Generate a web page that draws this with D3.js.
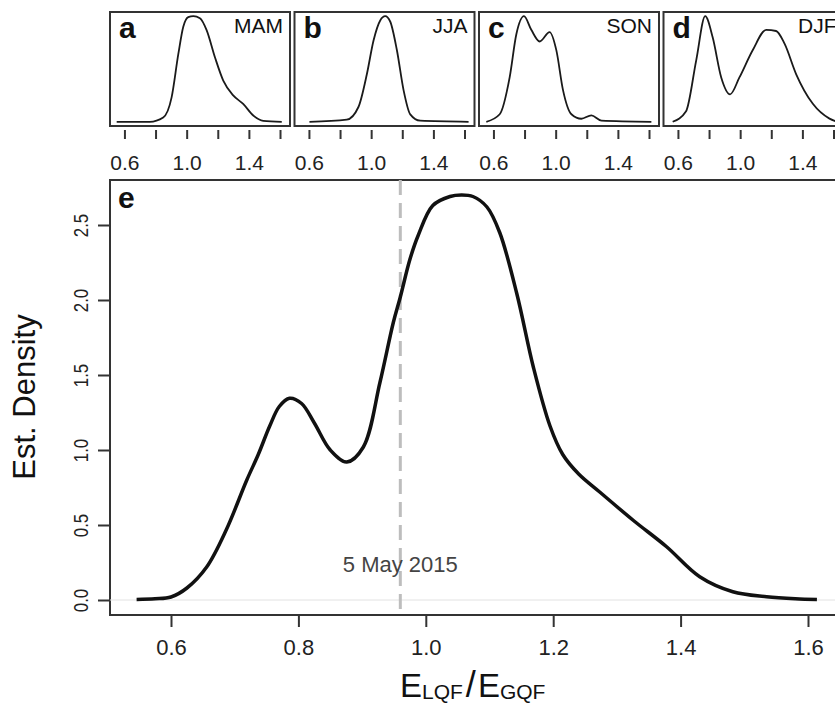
<!DOCTYPE html>
<meta charset="utf-8">
<style>
html, body { margin: 0; overflow: hidden; background: #fff; }
text { font-family: "Liberation Sans", Arial, sans-serif; }
</style>
<body>
<script src="https://cdn.jsdelivr.net/npm/d3@7"></script>
<script>

var width = 835, height = 705;

// main panel (e): estimated density of E_LQF / E_GQF
var mainX = [0.546, 0.575, 0.6, 0.625, 0.656, 0.687, 0.719, 0.737, 0.755, 0.77, 0.786, 0.805, 0.825, 0.85, 0.876,
  0.902, 0.928, 0.949, 0.96, 0.975, 0.988, 1.011, 1.038, 1.056, 1.074, 1.096, 1.116, 1.143, 1.169, 1.195,
  1.215, 1.24, 1.273, 1.326, 1.378, 1.43, 1.482, 1.535, 1.58, 1.614];
var mainY = [0.004, 0.008, 0.02, 0.08, 0.22, 0.47, 0.8, 0.97, 1.16, 1.29, 1.345, 1.31, 1.18, 1.0, 0.92,
  1.02, 1.45, 1.85, 2.02, 2.27, 2.43, 2.63, 2.69, 2.7, 2.69, 2.62, 2.45, 2.04, 1.55, 1.16,
  0.97, 0.84, 0.72, 0.53, 0.355, 0.155, 0.055, 0.022, 0.008, 0.003];

// seasonal panels (a-d)
var seasons = ["MAM", "JJA", "SON", "DJF"];
var letters = ["a", "b", "c", "d"];
var seasonX = [
  [0.547, 0.76, 0.846, 0.9, 0.943, 0.975, 1.007, 1.04, 1.082, 1.125, 1.179, 1.232, 1.296, 1.36, 1.425, 1.489, 1.608],
  [0.6, 0.84, 0.915, 0.969, 1.012, 1.055, 1.087, 1.119, 1.162, 1.205, 1.248, 1.312, 1.623],
  [0.551, 0.637, 0.701, 0.744, 0.793, 0.84, 0.894, 0.958, 1.001, 1.044, 1.098, 1.162, 1.226, 1.291, 1.612],
  [0.563, 0.649, 0.714, 0.772, 0.82, 0.875, 0.932, 0.992, 1.078, 1.164, 1.228, 1.282, 1.357, 1.464, 1.571, 1.62]
];
var seasonY = [
  [0, 0, 0.13, 0.74, 2.05, 2.88, 3.17, 3.2, 3.14, 2.78, 1.95, 1.25, 0.8, 0.54, 0.19, 0.03, 0],
  [0, 0.08, 0.56, 1.8, 3.08, 3.84, 4.0, 3.8, 2.72, 1.2, 0.28, 0.04, 0],
  [0, 0.2, 1.18, 2.32, 2.8, 2.44, 2.13, 2.38, 1.9, 0.84, 0.2, 0.08, 0.17, 0.03, 0],
  [0, 0.2, 1.16, 2.0, 1.6, 0.84, 0.52, 0.84, 1.36, 1.74, 1.72, 1.48, 0.9, 0.34, 0.06, 0]
];
var smallTicks = [0.6, 0.8, 1.0, 1.2, 1.4, 1.6];
var smallLabels = [0.6, 1.0, 1.4];

var mainTicksX = [0.6, 0.8, 1.0, 1.2, 1.4, 1.6];
var mainTicksY = [0, 0.5, 1.0, 1.5, 2.0, 2.5];
var eventX = 0.96, eventLabel = "5 May 2015";

var svg = d3.select("body").append("svg")
  .attr("width", width)
  .attr("height", height);

// ---- small panels ----
var pw = 180, ph = 114, pTop = 12, pStep = 184.5, pLeft = 110;

seasons.forEach(function(s, i) {
  var x0 = pLeft + i * pStep;
  var sx = d3.scaleLinear().domain([0.504, 1.661]).range([x0, x0 + pw]);
  var ymax = d3.max(seasonY[i]);
  var sy = d3.scaleLinear().domain([-0.04 * ymax, 1.04 * ymax]).range([pTop + ph, pTop]);
  var g = svg.append("g");

  g.append("rect")
    .attr("x", x0).attr("y", pTop)
    .attr("width", pw).attr("height", ph)
    .attr("fill", "none")
    .attr("stroke", "#333")
    .attr("stroke-width", 2);

  var pts = seasonX[i].map(function(v, j) { return [v, seasonY[i][j]]; });
  g.append("path")
    .datum(pts)
    .attr("d", d3.line()
      .x(function(d) { return sx(d[0]); })
      .y(function(d) { return sy(Math.max(0, d[1])); })
      .curve(d3.curveMonotoneX))
    .attr("fill", "none")
    .attr("stroke", "#1a1a1a")
    .attr("stroke-width", 1.8);

  g.selectAll(".stick").data(smallTicks).enter().append("line")
    .attr("x1", function(d) { return sx(d); })
    .attr("x2", function(d) { return sx(d); })
    .attr("y1", 130).attr("y2", 139)
    .attr("stroke", "#333")
    .attr("stroke-width", 2);

  g.selectAll(".slab").data(smallLabels).enter().append("text")
    .attr("x", function(d) { return sx(d); })
    .attr("y", 170)
    .attr("text-anchor", "middle")
    .attr("font-size", 21)
    .attr("fill", "#222")
    .text(function(d) { return d.toFixed(1); });

  g.append("text")
    .attr("x", x0 + 9).attr("y", 38)
    .attr("font-size", 30)
    .attr("font-weight", "bold")
    .attr("fill", "#111")
    .text(letters[i]);

  g.append("text")
    .attr("x", x0 + pw - 7).attr("y", 33)
    .attr("text-anchor", "end")
    .attr("font-size", 21)
    .attr("fill", "#111")
    .text(s);
});

// ---- main panel ----
var x = d3.scaleLinear().domain([0.6, 1.6]).range([171, 808]);
var y = d3.scaleLinear().domain([0, 2.5]).range([600, 225]);
var boxL = 110, boxT = 180, boxB = 615;

svg.append("rect")
  .attr("x", boxL).attr("y", boxT)
  .attr("width", 760).attr("height", boxB - boxT)
  .attr("fill", "none")
  .attr("stroke", "#333")
  .attr("stroke-width", 2);

// zero line
svg.append("line")
  .attr("x1", boxL).attr("x2", width)
  .attr("y1", y(0)).attr("y2", y(0))
  .attr("stroke", "#e2e2e2")
  .attr("stroke-width", 1);

// event line
svg.append("line")
  .attr("x1", x(eventX)).attr("x2", x(eventX))
  .attr("y1", boxT).attr("y2", boxB)
  .attr("stroke", "#bdbdbd")
  .attr("stroke-width", 3)
  .attr("stroke-dasharray", "15,8");

svg.append("text")
  .attr("x", x(eventX)).attr("y", 572)
  .attr("text-anchor", "middle")
  .attr("font-size", 22)
  .attr("fill", "#444")
  .text(eventLabel);

var mainPts = mainX.map(function(v, j) { return [v, mainY[j]]; });
svg.append("path")
  .datum(mainPts)
  .attr("d", d3.line()
    .x(function(d) { return x(d[0]); })
    .y(function(d) { return y(d[1]); })
    .curve(d3.curveCatmullRom.alpha(0.5)))
  .attr("fill", "none")
  .attr("stroke", "#111")
  .attr("stroke-width", 3.5);

// x axis
var xAxis = svg.append("g")
  .attr("transform", "translate(0," + boxB + ")")
  .call(d3.axisBottom(x).tickValues(mainTicksX).tickSize(12).tickPadding(12)
    .tickFormat(d3.format(".1f")));
xAxis.select(".domain").remove();
xAxis.selectAll("line").attr("stroke", "#333").attr("stroke-width", 2);
xAxis.selectAll("text").attr("font-size", 22).attr("fill", "#222");

// y axis
var yAxis = svg.append("g")
  .attr("transform", "translate(" + boxL + ",0)")
  .call(d3.axisLeft(y).tickValues(mainTicksY).tickSize(12).tickFormat(d3.format(".1f")));
yAxis.select(".domain").remove();
yAxis.selectAll("line").attr("stroke", "#333").attr("stroke-width", 2);
yAxis.selectAll(".tick text")
  .attr("font-size", 21).attr("fill", "#222")
  .attr("x", 0).attr("y", 0)
  .attr("text-anchor", "middle")
  .attr("dy", "0.36em")
  .attr("transform", "translate(-30,0) rotate(-90) scale(0.8,1)");

svg.append("text")
  .attr("x", 118).attr("y", 208)
  .attr("font-size", 30)
  .attr("font-weight", "bold")
  .attr("fill", "#111")
  .text("e");

// axis titles
svg.append("text")
  .attr("transform", "translate(35,397) rotate(-90)")
  .attr("text-anchor", "middle")
  .attr("font-size", 31)
  .attr("fill", "#111")
  .text("Est. Density");

var xt = svg.append("text")
  .attr("x", 400).attr("y", 697)
  .attr("font-size", 33)
  .attr("fill", "#111");
xt.append("tspan").text("E");
xt.append("tspan").attr("font-size", 21).attr("dy", 2).text("LQF");
xt.append("tspan").attr("font-size", 36).attr("dy", -2).attr("dx", 3).text("/");
xt.append("tspan").attr("dx", 2).text("E");
xt.append("tspan").attr("font-size", 21).attr("dy", 2).text("GQF");

</script>
</body>
